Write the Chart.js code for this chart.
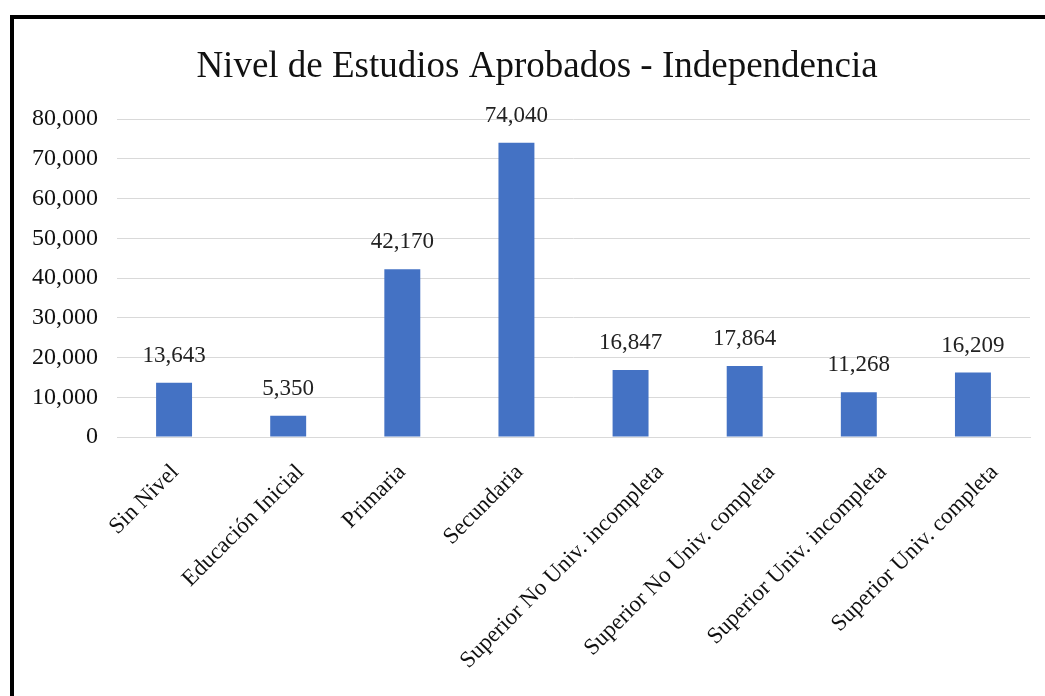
<!DOCTYPE html>
<html>
<head>
<meta charset="utf-8">
<script src="https://cdn.jsdelivr.net/npm/chart.js@4"></script>
<style>
  html, body { margin: 0; padding: 0; background: #fff; }
  body { width: 1045px; height: 696px; overflow: hidden; position: relative; }
  #frame {
    position: absolute; left: 10px; top: 15px; right: -10px; bottom: -10px;
    border-left: 4px solid #000; border-top: 4px solid #000;
  }
  #wrap { position: absolute; left: 0; top: 0; width: 1046px; height: 677px; }
</style>
</head>
<body>
<div id="frame">
  <div id="wrap"><canvas id="myChart"></canvas></div>
</div>
<script>
const categories = ['Sin Nivel', 'Educación Inicial', 'Primaria', 'Secundaria',
  'Superior No Univ. incompleta', 'Superior No Univ. completa',
  'Superior Univ. incompleta', 'Superior Univ. completa'];
const values = [13643, 5350, 42170, 74040, 16847, 17864, 11268, 16209];
const yTicks = [0, 10000, 20000, 30000, 40000, 50000, 60000, 70000, 80000];

const serif = '"Liberation Serif", "Times New Roman", serif';
const fmt = v => v.toLocaleString('en-US');

// labels above the bars
const valueLabels = {
  id: 'valueLabels',
  afterDatasetsDraw(chart) {
    const c = chart.ctx;
    const meta = chart.getDatasetMeta(0);
    c.save();
    c.font = '23px ' + serif;
    c.fillStyle = '#222';
    c.textAlign = 'center';
    c.textBaseline = 'middle';
    meta.data.forEach((bar, i) => {
      c.fillText(fmt(values[i]), bar.x, bar.y - 27);
    });
    c.restore();
  }
};

// excel-style slanted labels: longer labels sit a bit further right of the tick
const slantLabels = {
  id: 'slantLabels',
  beforeDraw(chart) {
    const axis = chart.scales.x;
    const c = chart.ctx;
    c.save();
    c.font = '23px ' + serif;
    axis.getLabelItems().forEach(item => {
      if (item._shifted) return;
      const w = c.measureText(item.label).width;
      item.options.translation[0] += Math.max(0, 0.15 * w - 12);
      item._shifted = true;
    });
    c.restore();
  }
};

const ctx = document.getElementById('myChart').getContext('2d');
new Chart(ctx, {
  type: 'bar',
  data: {
    labels: categories,
    datasets: [{
      data: values,
      backgroundColor: '#4472C4',
      barPercentage: 0.315,
      categoryPercentage: 1
    }]
  },
  options: {
    responsive: true,
    maintainAspectRatio: false,
    animation: false,
    layout: { padding: 0 },
    plugins: {
      legend: { display: false },
      tooltip: { enabled: false },
      title: {
        display: true,
        text: 'Nivel de Estudios Aprobados - Independencia',
        color: '#111',
        font: { family: serif, size: 37, weight: 'normal' },
        padding: { top: 26, bottom: 29.6 }
      }
    },
    scales: {
      x: {
        afterFit: axis => { axis.height = 259; },
        grid: { display: false, drawTicks: false },
        border: { color: '#d9d9d9' },
        ticks: {
          color: '#111',
          font: { family: serif, size: 23 },
          minRotation: 45,
          maxRotation: 45,
          padding: 22
        }
      },
      y: {
        min: 0,
        max: 80000,
        afterFit: axis => { axis.width = 103; },
        afterBuildTicks: axis => { axis.ticks = yTicks.map(v => ({ value: v })); },
        grid: { color: '#d9d9d9', drawTicks: false },
        border: { display: false },
        ticks: {
          color: '#111',
          font: { family: serif, size: 24 },
          padding: 19,
          callback: v => fmt(v)
        }
      },
      // empty right-hand gutter so the title stays centred on the whole frame
      gutter: {
        position: 'right',
        afterFit: axis => { axis.width = 30; },
        grid: { display: false },
        border: { display: false },
        ticks: { display: false }
      }
    }
  },
  plugins: [valueLabels, slantLabels]
});
</script>
</body>
</html>
